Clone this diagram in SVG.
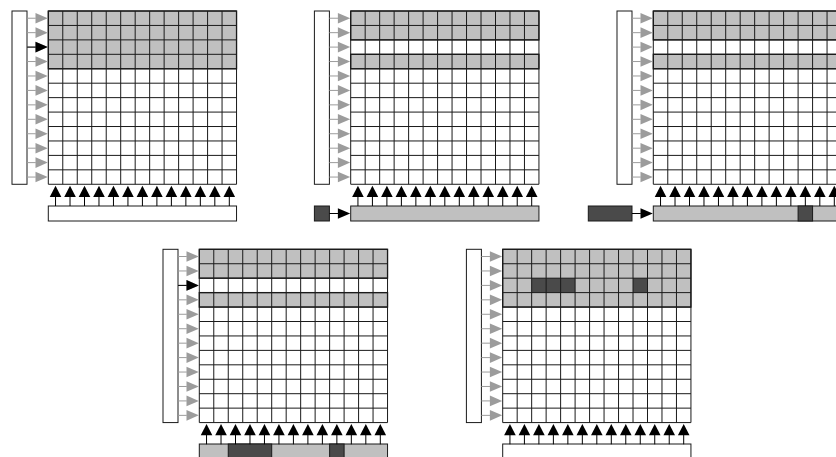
<svg xmlns="http://www.w3.org/2000/svg" xmlns:xlink="http://www.w3.org/1999/xlink" width="836" height="457" viewBox="0 0 836 457">
<style>
.box{fill:#fff;stroke:#1a1a1a;stroke-width:1}
.lg{fill:#c0c0c0;stroke:none}
.dk{fill:#4a4a4a;stroke:none}
.dkb{fill:#4a4a4a;stroke:#1a1a1a;stroke-width:1}
.lgb{fill:#c0c0c0;stroke:#1a1a1a;stroke-width:1}
.wb{fill:#fff;stroke:#1a1a1a;stroke-width:1}
.grid{fill:none;stroke:#1a1a1a;stroke-width:1}
.band{fill:none;stroke:#1a1a1a;stroke-width:1.3}
.ga{stroke:#9c9c9c;fill:#9c9c9c;stroke-width:1}
.ba{stroke:#000;fill:#000;stroke-width:1}
</style>
<defs>
<g id="ra"><line x1="-21.3" y1="0" x2="-12.5" y2="0"/><path d="M-12.8,-5.3 L-0.5,0 L-12.8,5.3Z" stroke="none"/></g>
<g id="ca"><line x1="0" y1="185.5" x2="0" y2="195"/><path d="M-5.8,186 L0,174.8 L5.8,186Z" stroke="none"/></g>
<g id="rowarrows">
<use href="#ra" y="7.22"/><use href="#ra" y="21.66"/><use href="#ra" y="36.1"/><use href="#ra" y="50.54"/><use href="#ra" y="64.98"/><use href="#ra" y="79.42"/><use href="#ra" y="93.86"/><use href="#ra" y="108.3"/><use href="#ra" y="122.74"/><use href="#ra" y="137.18"/><use href="#ra" y="151.62"/><use href="#ra" y="166.06"/>
</g>
<g id="colarrows">
<use href="#ca" x="7.24"/><use href="#ca" x="21.72"/><use href="#ca" x="36.2"/><use href="#ca" x="50.68"/><use href="#ca" x="65.16"/><use href="#ca" x="79.64"/><use href="#ca" x="94.12"/><use href="#ca" x="108.6"/><use href="#ca" x="123.08"/><use href="#ca" x="137.56"/><use href="#ca" x="152.04"/><use href="#ca" x="166.52"/><use href="#ca" x="181"/>
</g>
<path id="gridlines" class="grid" d="M0,0V173.28M14.48,0V173.28M28.96,0V173.28M43.44,0V173.28M57.92,0V173.28M72.4,0V173.28M86.88,0V173.28M101.36,0V173.28M115.84,0V173.28M130.32,0V173.28M144.8,0V173.28M159.28,0V173.28M173.76,0V173.28M188.24,0V173.28M0,0H188.24M0,14.44H188.24M0,28.88H188.24M0,43.32H188.24M0,57.76H188.24M0,72.2H188.24M0,86.64H188.24M0,101.08H188.24M0,115.52H188.24M0,129.96H188.24M0,144.4H188.24M0,158.84H188.24M0,173.28H188.24"/>
</defs>

<g id="panel1" transform="translate(48.3,11)">
  <g id="p1-rowdriver"><rect class="box" x="-36.3" y="0" width="15" height="173.28"/></g>
  <g id="p1-array">
    <rect x="0" y="0" width="188.24" height="173.28" fill="#fff"/>
    <rect class="lg" x="0" y="0" width="188.24" height="57.76"/>
    <use href="#gridlines"/>
    <rect class="band" x="0" y="0" width="188.24" height="57.76"/>
  </g>
  <g id="p1-colbus"><rect class="wb" x="0" y="195" width="188.24" height="15"/></g>
  <g id="p1-connectors">
    <use href="#rowarrows" class="ga"/>
    <use href="#ra" class="ba" y="36.1"/>
    <use href="#colarrows" class="ba"/>
  </g>
</g>

<g id="panel2" transform="translate(350.7,11)">
  <g id="p2-rowdriver"><rect class="box" x="-36.3" y="0" width="15" height="173.28"/></g>
  <g id="p2-array">
    <rect x="0" y="0" width="188.24" height="173.28" fill="#fff"/>
    <rect class="lg" x="0" y="0" width="188.24" height="28.88"/>
    <rect class="lg" x="0" y="43.32" width="188.24" height="14.44"/>
    <use href="#gridlines"/>
    <rect class="band" x="0" y="0" width="188.24" height="28.88"/>
    <rect class="band" x="0" y="43.32" width="188.24" height="14.44"/>
  </g>
  <g id="p2-source"><rect class="dkb" x="-36.3" y="195" width="15" height="15"/></g>
  <g id="p2-colbus"><rect class="lgb" x="0" y="195" width="188.24" height="15"/></g>
  <g id="p2-connectors">
    <use href="#rowarrows" class="ga"/>
    <use href="#colarrows" class="ba"/>
    <use href="#ra" class="ba" y="202.5"/>
  </g>
</g>

<g id="panel3" transform="translate(653.3,11)">
  <g id="p3-rowdriver"><rect class="box" x="-36.3" y="0" width="15" height="173.28"/></g>
  <g id="p3-array">
    <rect x="0" y="0" width="188.24" height="173.28" fill="#fff"/>
    <rect class="lg" x="0" y="0" width="188.24" height="28.88"/>
    <rect class="lg" x="0" y="43.32" width="188.24" height="14.44"/>
    <use href="#gridlines"/>
    <rect class="band" x="0" y="0" width="188.24" height="28.88"/>
    <rect class="band" x="0" y="43.32" width="188.24" height="14.44"/>
  </g>
  <g id="p3-source"><rect class="dkb" x="-65" y="195" width="43.7" height="15"/></g>
  <g id="p3-colbus">
    <rect class="lgb" x="0" y="195" width="188.24" height="15"/>
    <rect class="dkb" x="144.8" y="195" width="14.48" height="15"/>
  </g>
  <g id="p3-connectors">
    <use href="#rowarrows" class="ga"/>
    <use href="#colarrows" class="ba"/>
    <use href="#ra" class="ba" y="202.5"/>
  </g>
</g>

<g id="panel4" transform="translate(199.3,249.3)">
  <g id="p4-rowdriver"><rect class="box" x="-36.3" y="0" width="15" height="173.28"/></g>
  <g id="p4-array">
    <rect x="0" y="0" width="188.24" height="173.28" fill="#fff"/>
    <rect class="lg" x="0" y="0" width="188.24" height="28.88"/>
    <rect class="lg" x="0" y="43.32" width="188.24" height="14.44"/>
    <use href="#gridlines"/>
    <rect class="band" x="0" y="0" width="188.24" height="28.88"/>
    <rect class="band" x="0" y="43.32" width="188.24" height="14.44"/>
  </g>
  <g id="p4-colbus">
    <rect class="lgb" x="0" y="194.7" width="188.24" height="15"/>
    <rect class="dkb" x="28.96" y="194.7" width="43.44" height="15"/>
    <rect class="dkb" x="130.32" y="194.7" width="14.48" height="15"/>
  </g>
  <g id="p4-connectors">
    <use href="#rowarrows" class="ga"/>
    <use href="#ra" class="ba" y="36.1"/>
    <use href="#colarrows" class="ba"/>
  </g>
</g>

<g id="panel5" transform="translate(502.7,249.3)">
  <g id="p5-rowdriver"><rect class="box" x="-36.3" y="0" width="15" height="173.28"/></g>
  <g id="p5-array">
    <rect x="0" y="0" width="188.24" height="173.28" fill="#fff"/>
    <rect class="lg" x="0" y="0" width="188.24" height="57.76"/>
    <rect class="dk" x="28.96" y="28.88" width="43.44" height="14.44"/>
    <rect class="dk" x="130.32" y="28.88" width="14.48" height="14.44"/>
    <use href="#gridlines"/>
    <rect class="band" x="0" y="0" width="188.24" height="57.76"/>
  </g>
  <g id="p5-colbus"><rect class="wb" x="0" y="194.7" width="188.24" height="15"/></g>
  <g id="p5-connectors">
    <use href="#rowarrows" class="ga"/>
    <use href="#colarrows" class="ba"/>
  </g>
</g>
</svg>
